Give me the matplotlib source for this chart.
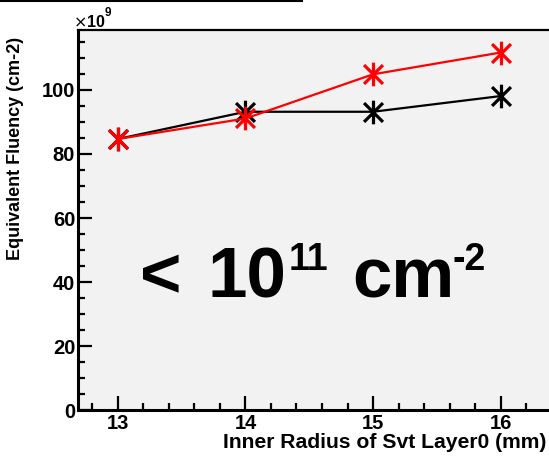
import matplotlib
matplotlib.use("Agg")
import matplotlib.pyplot as plt
from matplotlib.path import Path
from matplotlib.lines import Line2D
from matplotlib.ticker import MultipleLocator

plt.rcParams['font.family'] = ['Liberation Sans', 'DejaVu Sans']

# inner radius of layer 0 (mm) and fluency in units of 1e9 cm^-2
radius = [13, 14, 15, 16]
fluency_black = [84.7, 93.2, 93.2, 98.1]
fluency_red = [84.7, 91.1, 104.9, 111.7]

W, H = 549, 458

# asterisk marker: vertical bar plus two diagonals
star = Path([(0, -1), (0, 1), (-0.8, -0.8), (0.8, 0.8), (-0.8, 0.8), (0.8, -0.8)],
            [Path.MOVETO, Path.LINETO, Path.MOVETO, Path.LINETO,
             Path.MOVETO, Path.LINETO])

fig = plt.figure(figsize=(W / 100, H / 100), dpi=100)
fig.patch.set_facecolor('white')
ax = fig.add_axes([0.142, 0.1048, 0.87, 0.8297])
ax.set_facecolor('#f2f2f2')

ax.plot(radius, fluency_black, color='black', lw=1.6, marker=star,
        markersize=17, markeredgewidth=2.3, zorder=3)
ax.plot(radius, fluency_red, color='red', lw=1.6, marker=star,
        markersize=17, markeredgewidth=2.3, zorder=4)

ax.set_xlim(12.686, 16.432)
ax.set_ylim(0, 118.75)
ax.xaxis.set_major_locator(MultipleLocator(1))
ax.xaxis.set_minor_locator(MultipleLocator(0.2))
ax.yaxis.set_major_locator(MultipleLocator(20))
ax.yaxis.set_minor_locator(MultipleLocator(5))
ax.tick_params(which='both', direction='in', width=1.6, color='black',
               top=False, right=False)
ax.tick_params(which='major', length=10, labelsize=14.5)
ax.tick_params(axis='x', which='major', pad=3)
ax.tick_params(axis='y', which='major', pad=2)
ax.tick_params(which='minor', length=5)
for lab in ax.get_xticklabels() + ax.get_yticklabels():
    lab.set_fontweight('bold')

for side in ['left', 'bottom']:
    ax.spines[side].set_linewidth(2.2)
ax.spines['top'].set_linewidth(1.6)
ax.spines['right'].set_visible(False)

ax.set_xlabel('Inner Radius of Svt Layer0 (mm)', fontsize=15.2,
              fontweight='bold', ha='right', va='center')
ax.xaxis.set_label_coords((546 - 78) / 477.6, (410 - 442) / 380)
ax.set_ylabel('Equivalent Fluency (cm-2)', fontsize=13, fontweight='bold',
              ha='right', va='center')
ax.yaxis.set_label_coords((16 - 78) / 477.6, (410 - 37) / 380)

fig.text(73 / W, 1 - 27 / H, r'$\times$10', fontsize=11.5, fontweight='bold')
fig.text(105 / W, 1 - 7 / H, '9', fontsize=8.5, fontweight='bold', va='top')

# headline label, built from pieces so the exponents sit at cap height
big_font = dict(fontsize=51, fontweight='bold')
exp_font = dict(fontsize=27, fontweight='bold')
base_y = 1 - 297 / H
top_y = 1 - 242 / H
renderer = fig.canvas.get_renderer()

x = 140
for s, style, gap in [('<', big_font, 0), ('10', big_font, 26),
                      ('11', exp_font, 2), ('cm', big_font, 24),
                      ('-2', exp_font, -2)]:
    if style is big_font:
        t = fig.text((x + gap) / W, base_y, s, va='baseline', **style)
    else:
        t = fig.text((x + gap) / W, top_y, s, va='top', **style)
    fig.canvas.draw()
    x = t.get_window_extent(renderer).x1

fig.add_artist(Line2D([0, 302 / W], [0.998, 0.998], color='black', lw=1.5,
                      transform=fig.transFigure))

fig.savefig('out.png', dpi=100)
